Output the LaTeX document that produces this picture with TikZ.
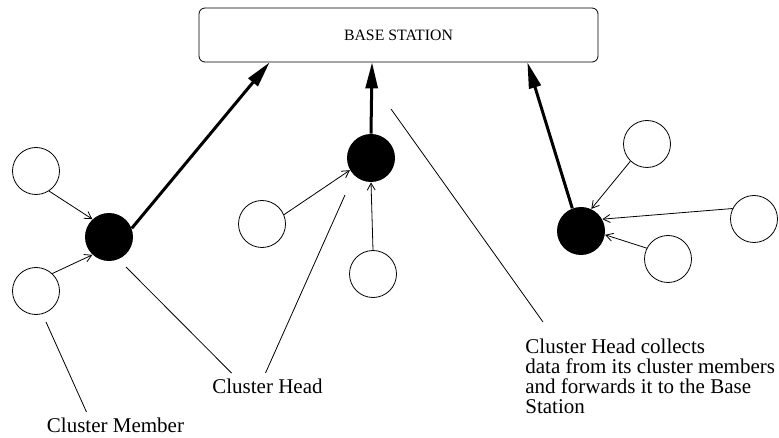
\documentclass[tikz,border=0pt]{standalone}
\usepackage{fontspec}
\setmainfont{Liberation Serif}
\usetikzlibrary{arrows.meta}

\begin{document}
\begin{tikzpicture}[x=1pt,y=-1pt,line width=0.8pt,
  member/.style={circle,draw,minimum size=47pt,inner sep=0pt},
  head/.style={circle,fill=black,minimum size=48pt,inner sep=0pt},
  datalink/.style={-{Straight Barb[length=7pt,width=8pt]},line width=0.8pt},
  uplink/.style={-{Triangle[length=26pt,width=12pt]},line width=3pt},
  leader/.style={line width=0.8pt},
  lbl/.style={font=\fontsize{21}{20}\selectfont,inner sep=0pt}]

    \useasboundingbox (0,0) rectangle (779,438);

    % The base station
	\node [draw,rounded corners=6pt,minimum width=399pt,minimum height=54pt,font=\fontsize{15.8}{16}\selectfont] at (398.5,35) (bs) {BASE STATION};

    % First cluster
	\node [member] at (36,171) (m1) {};
	\node [member] at (36,291) (m2) {};
	\node [head] at (109,237) (h1) {};

    % Second cluster
	\node [member] at (262,224) (m3) {};
	\node [member] at (373,274) (m4) {};
	\node [head] at (371,158) (h2) {};

    % Third cluster
	\node [member] at (647,144) (m5) {};
	\node [member] at (754,219) (m6) {};
	\node [member] at (668,259) (m7) {};
	\node [head] at (581,231) (h3) {};

    % Labels
	\node [lbl] at (115.5,425.8) (lmember) {Cluster Member};
	\node [lbl] at (267.5,386.8) (lhead) {Cluster Head};
	\node [lbl,anchor=north west,align=left] at (525,339) (lnote) {Cluster Head collects\\data from its cluster members\\and forwards it to the Base\\Station};

	\coordinate (p1) at (46,322);
	\coordinate (p2) at (126,267);
	\coordinate (p3) at (345,195);
	\coordinate (p4) at (391,109);

	% Member to head edges
	\path [datalink]
	(m1.-57) edge (h1.133)
	(m2.47) edge (h1.227)
	(m3.23) edge (h2.210)
	(m4.north) edge (h2.south)
	(m5.226) edge (h3.65)
	(m6.154) edge (h3.29)
	(m7.153) edge (h3.-9);

	% Head to base station edges
	\path [uplink]
	(h1.21) edge (bs.-168)
	(h2.north) edge (bs.-134)
	(h3.111) edge (bs.-12);

	% Label lines
	\path [leader]
	(p1) edge ([xshift=-29pt,yshift=6pt]lmember.north)
	(p2) edge ([xshift=-36pt,yshift=6pt]lhead.north)
	(p3) edge ([xshift=-2pt,yshift=6pt]lhead.north)
	(p4) edge ([xshift=18pt,yshift=17pt]lnote.north west);

\end{tikzpicture}
\end{document}
